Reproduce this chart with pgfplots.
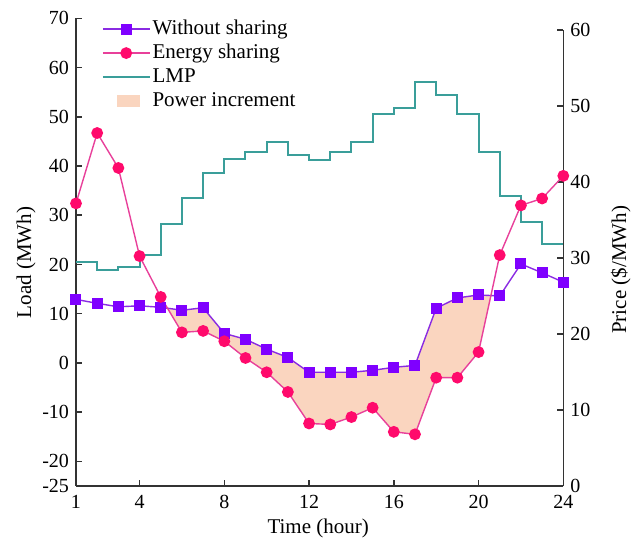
\documentclass[border=0pt]{standalone}
\usepackage{fontspec}
\setmainfont{Liberation Serif}
\usepackage{pgfplots}
\pgfplotsset{compat=1.18}
\usepgfplotslibrary{fillbetween}
\definecolor{wscol}{HTML}{7F00FF}
\definecolor{wsline}{HTML}{8A2BE2}
\definecolor{escol}{HTML}{FF0A6C}
\definecolor{esline}{HTML}{E8409A}
\definecolor{lmpcol}{HTML}{3A9E9A}
\definecolor{fillcol}{HTML}{FAD5BF}
\definecolor{axcol}{HTML}{333333}
\begin{document}
\begin{tikzpicture}
\pgfplotsset{common/.style={
  width=243.65pt, scale only axis, at={(0,0)}, anchor=south west,
  xmin=1, xmax=24, tick align=inside, major tick length=3pt,
  axis line style={axcol, line width=0.75pt},
  every tick/.style={axcol, line width=0.75pt},
  /pgf/number format/assume math mode=true,
  tick label style={font=\fontsize{10}{12}\selectfont},
  label style={font=\fontsize{10.5}{12}\selectfont},
}}
% Right axis: LMP
\begin{axis}[common, height=228pt,
  axis x line=none, axis y line*=right,
  ymin=0, ymax=60, ytick={0,10,20,30,40,50,60},
  ylabel={Price (\$/MWh)},
  ylabel style={at={(axis description cs:1.118,0.474)}, anchor=center, rotate=0},
]
\addplot[const plot, lmpcol, line width=1pt] coordinates {
(1,29.5) (2,28.4) (3,28.8) (4,30.4) (5,34.5) (6,37.9) (7,41.2) (8,43.0)
(9,44.0) (10,45.2) (11,43.6) (12,42.9) (13,43.9) (14,45.3) (15,48.9) (16,49.8)
(17,53.1) (18,51.5) (19,49.0) (20,43.9) (21,38.1) (22,34.8) (23,31.8) (24,31.8)};
\end{axis}
% Left axis: loads
\begin{axis}[common, height=233.85pt, set layers,
  axis x line*=bottom, axis y line*=left,
  ymin=-25, ymax=70, ytick={-25,-20,-10,0,10,20,30,40,50,60,70},
  xtick={1,4,8,12,16,20,24},
  xticklabel style={yshift=-1pt},
  xlabel={Time (hour)}, ylabel={Load (MWh)},
  xlabel style={at={(axis description cs:0.497,-0.09)}, anchor=center},
  ylabel style={at={(axis description cs:-0.1026,0.478)}, anchor=center},
  legend style={draw=none, fill=none, at={(axis description cs:0.04,1.012)}, anchor=north west,
    font=\fontsize{10.5}{12}\selectfont, row sep=0pt,
    nodes={inner sep=1pt, text height=7.5pt, text depth=2.5pt}},
  legend cell align=left,
  legend image code/.code={\draw[mark repeat=2,mark phase=2,#1] plot coordinates {(0cm,0cm) (0.41cm,0cm) (0.82cm,0cm)};},
]
\addplot[name path=W, wsline, line width=0.7pt, mark=square*, mark size=2.4pt, mark options={fill=wscol, draw=wscol}] coordinates {
(1,12.9) (2,12.1) (3,11.4) (4,11.6) (5,11.3) (6,10.7) (7,11.2) (8,6.0)
(9,4.8) (10,2.8) (11,1.1) (12,-1.9) (13,-1.9) (14,-1.9) (15,-1.5) (16,-0.9)
(17,-0.5) (18,11.1) (19,13.2) (20,13.8) (21,13.6) (22,20.1) (23,18.3) (24,16.4)};
\addplot[name path=E, esline, line width=0.7pt, mark=*, mark size=2.6pt, mark options={fill=escol, draw=escol}] coordinates {
(1,32.4) (2,46.7) (3,39.6) (4,21.7) (5,13.4) (6,6.2) (7,6.5) (8,4.4)
(9,1.0) (10,-1.9) (11,-5.9) (12,-12.3) (13,-12.5) (14,-11.0) (15,-9.1) (16,-14.0)
(17,-14.5) (18,-3.0) (19,-3.0) (20,2.2) (21,21.9) (22,32.0) (23,33.4) (24,38.0)};
\addlegendimage{lmpcol, line width=1pt}
\addlegendimage{legend image code/.code={\fill[fillcol] (0.25cm,-0.1cm) rectangle (0.64cm,0.1cm);}}
\addplot[fillcol, draw=none, forget plot] fill between[of=W and E, soft clip={domain=5.32:20.58}];
\legend{Without sharing, Energy sharing, LMP, Power increment}
\end{axis}
\pgfresetboundingbox
\useasboundingbox (-38pt,-31.5pt) rectangle (280.5pt,243pt);
\end{tikzpicture}
\end{document}
